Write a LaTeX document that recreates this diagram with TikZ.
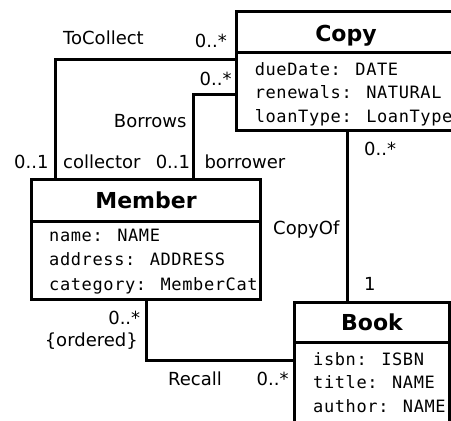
\documentclass[tikz,border=0pt]{standalone}
\usepackage{fontspec}
\setmainfont{DejaVu Sans}
\newfontfamily\attrfont[LetterSpace=3.6]{DejaVu Sans Mono}
\begin{document}
\begin{tikzpicture}[x=1pt, y=-1pt, line width=3pt,
  cls/.style={draw, rectangle, inner sep=0pt, outer sep=0pt, anchor=north west},
  clstitle/.style={font=\fontsize{22}{22}\selectfont\bfseries, anchor=base, inner sep=0pt},
  attr/.style={font=\fontsize{17}{17}\attrfont, anchor=base west, inner sep=0pt},
  lbl/.style={font=\fontsize{18}{18}\selectfont, inner sep=0pt}]
\useasboundingbox (0,0) rectangle (451,421);
\clip (0,0) rectangle (451,421);

% class boxes
\node[cls, minimum width=226pt, minimum height=118.5pt] (copy) at (236.5,11.5) {};
\node[cls, minimum width=229pt, minimum height=120pt] (member) at (31.5,179) {};
\node[cls, minimum width=155pt, minimum height=130pt] (book) at (294,302) {};

% compartment separators
\draw ([yshift=-41pt]copy.north west) -- ([yshift=-41pt]copy.north east);
\draw ([yshift=-42.5pt]member.north west) -- ([yshift=-42.5pt]member.north east);
\draw ([yshift=-40.5pt]book.north west) -- ([yshift=-40.5pt]book.north east);

% class names
\node[clstitle] (copyname) at (346,41) {Copy};
\node[clstitle] (membername) at (146,208) {Member};
\node[clstitle] (bookname) at (372,330) {Book};

% attributes
\node[attr] (c1) at (253.3,75) {dueDate: DATE};
\node[attr] (c2) at (253.3,98.5) {renewals: NATURAL};
\node[attr] (c3) at (253.3,122) {loanType: LoanType};
\node[attr] (m1) at (47.7,241.7) {name: NAME};
\node[attr] (m2) at (47.7,265.7) {address: ADDRESS};
\node[attr] (m3) at (47.7,290) {category: MemberCat};
\node[attr] (b1) at (311.7,365) {isbn: ISBN};
\node[attr] (b2) at (311.7,388.5) {title: NAME};
\node[attr] (b3) at (311.7,412) {author: NAME};

% bend points of the associations
\coordinate (tc) at (55,59);
\coordinate (bw) at (193,94);
\coordinate (co) at (347,0);
\coordinate (rc) at (146,360);

% associations
\draw (copy.west |- tc) -| (member.north -| tc);
\draw (copy.west |- bw) -| (member.north -| bw);
\draw (copy.south -| co) -- (book.north -| co);
\draw (member.south -| rc) |- (book.west |- rc);

% association names, roles and multiplicities
\node[lbl, anchor=base west] (lToCollect) at (61.7,44) {ToCollect};
\node[lbl, anchor=base east] (mTcCopy) at (228.3,47) {0..*};
\node[lbl, anchor=base east] (mBwCopy) at (233,85) {0..*};
\node[lbl, anchor=base east] (lBorrows) at (188,127.5) {Borrows};
\node[lbl, anchor=base west] (mTcMember) at (12.7,168) {0..1};
\node[lbl, anchor=base west] (rCollector) at (61.7,168) {collector};
\node[lbl, anchor=base west] (mBwMember) at (154.3,168) {0..1};
\node[lbl, anchor=base west] (rBorrower) at (203,168) {borrower};
\node[lbl, anchor=base west] (mCoCopy) at (362.7,155) {0..*};
\node[lbl, anchor=base west] (lCopyOf) at (271.7,234) {CopyOf};
\node[lbl, anchor=base west] (mCoBook) at (362.7,290) {1};
\node[lbl, anchor=base east] (mRcMember) at (141.7,324) {0..*};
\node[lbl, anchor=base east] (cOrdered) at (139.3,346) {\{ordered\}};
\node[lbl, anchor=base west] (lRecall) at (166.7,385) {Recall};
\node[lbl, anchor=base east] (mRcBook) at (290,385) {0..*};
\end{tikzpicture}
\end{document}
